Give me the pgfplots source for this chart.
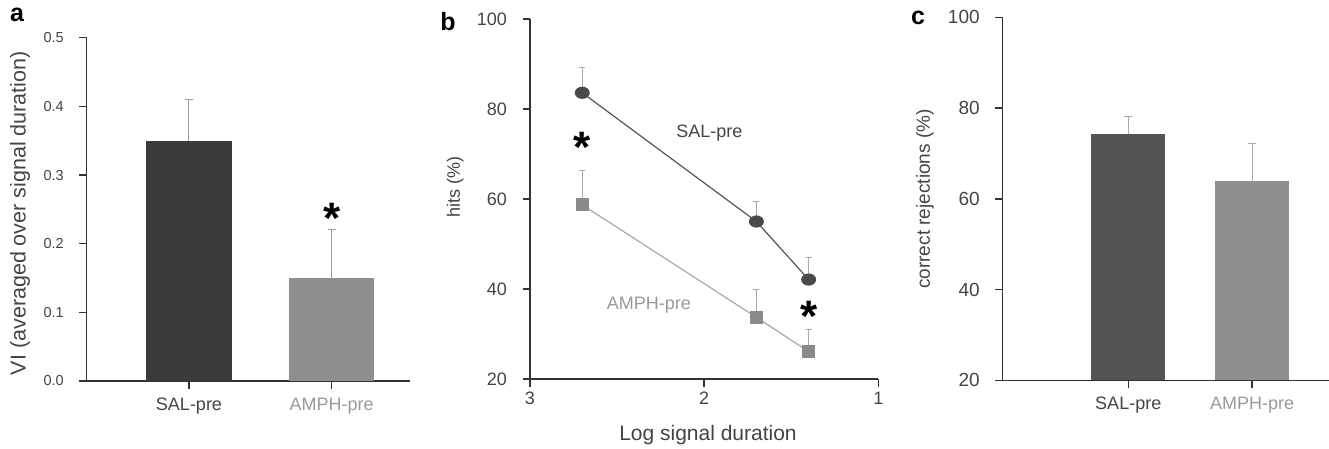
\documentclass[border=0pt]{standalone}
\usepackage{fontspec}
\setmainfont{Liberation Sans}
\usepackage{pgfplots}
\pgfplotsset{compat=1.18}
\definecolor{axc}{HTML}{333333}
\definecolor{darkbar}{HTML}{3A3A3A}
\definecolor{darkbarc}{HTML}{545454}
\definecolor{lightbar}{HTML}{8E8E8E}
\definecolor{errc}{HTML}{9A9A9A}
\definecolor{errb}{HTML}{AAAAAA}
\definecolor{txtd}{HTML}{444444}
\definecolor{txtl}{HTML}{9A9A9A}
\definecolor{salm}{HTML}{4A4A4A}
\definecolor{sall}{HTML}{555555}
\definecolor{amphm}{HTML}{8A8A8A}
\definecolor{amphl}{HTML}{A8A8A8}
\pgfplotsset{
  base/.style={
    scale only axis,
    axis lines*=left,
    axis line style={axc, line width=1.4pt},
    tick style={axc, line width=1.4pt},
    tick align=outside,
    major tick length=7.5pt,
    /pgf/number format/assume math mode=true,
    tick label style={text=txtd},
    yticklabel style={xshift=-12pt},
    clip=false,
    anchor=south west,
    ylabel style={anchor=center, text=txtd},
    xlabel style={anchor=center, text=txtd},
  }
}
\begin{document}
\begin{tikzpicture}
% ---------------- panel a
\begin{axis}[base, at={(86.7pt,67pt)}, width=323.3pt, height=343.3pt,
  xmin=-0.717, xmax=1.549, ymin=0, ymax=0.5,
  ytick={0,0.1,0.2,0.3,0.4,0.5},
  xtick={0,1}, xticklabels={SAL-pre,\textcolor{txtl}{AMPH-pre}},
  yticklabel style={font=\fontsize{14.5}{16}\selectfont, /pgf/number format/.cd, fixed, fixed zerofill, precision=1},
  xticklabel style={font=\fontsize{18}{20}\selectfont, yshift=-6pt},
  ylabel={VI (averaged over signal duration)},
  ylabel style={at={(axis description cs:-0.206,0.489)}, font=\fontsize{21.5}{23}\selectfont},
]
\addplot[ybar, bar shift=0pt, bar width=85pt, fill=darkbar, draw=none,
  error bars/.cd, y dir=plus, y explicit,
  error bar style={errc, line width=1pt},
  error mark options={errc, rotate=90, mark size=4pt, line width=1pt}]
  coordinates {(0,0.35) +- (0,0.06)};
\addplot[ybar, bar shift=0pt, bar width=85pt, fill=lightbar, draw=none,
  error bars/.cd, y dir=plus, y explicit,
  error bar style={errc, line width=1pt},
  error mark options={errc, rotate=90, mark size=4pt, line width=1pt}]
  coordinates {(1,0.15) +- (0,0.07)};
\node[font=\fontsize{44}{44}\selectfont\bfseries, anchor=base, yshift=-26pt] at (axis cs:1,0.252) {*};
\end{axis}
% ---------------- panel b
\begin{axis}[base, at={(530pt,69pt)}, width=348.3pt, height=360pt,
  xmin=1, xmax=3, x dir=reverse, ymin=20, ymax=100,
  ytick={20,40,60,80,100}, xtick={1,2,3},
  tick label style={font=\fontsize{18}{20}\selectfont},
  xticklabel style={yshift=-2pt},
  ylabel={hits (\%)},
  ylabel style={at={(axis description cs:-0.215,0.532)}, font=\fontsize{18}{20}\selectfont},
  xlabel={Log signal duration},
  xlabel style={at={(axis description cs:0.511,-0.156)}, font=\fontsize{21}{23}\selectfont},
]
\addplot[color=sall, line width=1.2pt, mark=*, mark size=5.5pt,
  mark options={fill=salm, draw=salm, xscale=1.25},
  error bars/.cd, y dir=plus, y explicit,
  error bar style={errb, line width=1pt},
  error mark options={errb, rotate=90, mark size=3pt, line width=1pt}]
  coordinates {(2.7,83.6) +- (0,5.6) (1.7,55.0) +- (0,4.4) (1.4,42.1) +- (0,4.9)};
\addplot[color=amphl, line width=1.2pt, mark=square*, mark size=5.8pt,
  mark options={fill=amphm, draw=amphm},
  error bars/.cd, y dir=plus, y explicit,
  error bar style={errb, line width=1pt},
  error mark options={errb, rotate=90, mark size=3pt, line width=1pt}]
  coordinates {(2.7,58.7) +- (0,7.7) (1.7,33.7) +- (0,6.2) (1.4,26.1) +- (0,4.8)};
\node[font=\fontsize{18}{20}\selectfont, text=txtd] at (axis cs:1.97,74.6) {SAL-pre};
\node[font=\fontsize{18}{20}\selectfont, text=txtl] at (axis cs:2.317,36.4) {AMPH-pre};
\node[font=\fontsize{44}{44}\selectfont\bfseries, anchor=base, yshift=-26pt] at (axis cs:2.7,73.8) {*};
\node[font=\fontsize{44}{44}\selectfont\bfseries, anchor=base, yshift=-26pt] at (axis cs:1.4,36.4) {*};
\end{axis}
% ---------------- panel c
\begin{axis}[base, at={(1002.7pt,67.7pt)}, width=326.3pt, height=363pt,
  xmin=-1.013, xmax=1.62, ymin=20, ymax=100, clip=true,
  ytick={20,40,60,80,100},
  xtick={0,1}, xticklabels={SAL-pre,\textcolor{txtl}{AMPH-pre}},
  yticklabel style={font=\fontsize{19}{21}\selectfont},
  xticklabel style={font=\fontsize{18}{20}\selectfont, yshift=-6pt},
  ylabel={correct rejections (\%)},
  ylabel style={at={(axis description cs:-0.238,0.4995)}, font=\fontsize{19}{21}\selectfont},
]
\addplot[ybar, bar shift=0pt, bar width=74pt, fill=darkbarc, draw=none,
  error bars/.cd, y dir=plus, y explicit,
  error bar style={errb, line width=1pt},
  error mark options={errb, rotate=90, mark size=4pt, line width=1pt}]
  coordinates {(0,74.2) +- (0,3.9)};
\addplot[ybar, bar shift=0pt, bar width=74pt, fill=lightbar, draw=none,
  error bars/.cd, y dir=plus, y explicit,
  error bar style={errb, line width=1pt},
  error mark options={errb, rotate=90, mark size=4pt, line width=1pt}]
  coordinates {(1,63.9) +- (0,8.3)};
\end{axis}
% panel letters
\node[font=\fontsize{25}{25}\selectfont\bfseries] at (17pt,433pt) {a};
\node[font=\fontsize{25}{25}\selectfont\bfseries] at (448pt,426pt) {b};
\node[font=\fontsize{25}{25}\selectfont\bfseries] at (918pt,430pt) {c};
\pgfresetboundingbox
\path[use as bounding box] (0pt,0pt) rectangle (1329pt,448pt);
\end{tikzpicture}
\end{document}
